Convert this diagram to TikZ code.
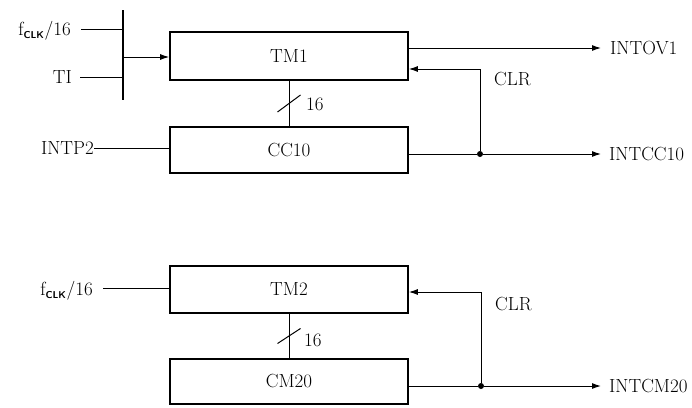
\documentclass[tikz,border=0pt]{standalone}
\usetikzlibrary{arrows.meta,calc}
\begin{document}
\begin{tikzpicture}[x=1pt,y=-1pt,
  font=\fontsize{19}{22}\selectfont,
  blk/.style={draw,line width=1.7pt,minimum width=238pt,inner sep=0pt,anchor=center},
  wire/.style={line width=1pt},
  arr/.style={wire,-{Latex[length=9pt,width=6pt]}},
  lbl/.style={inner sep=0pt},
  dotc/.style={circle,fill,inner sep=0pt,minimum size=6pt}]
\useasboundingbox (0,0) rectangle (692,407);
\newcommand{\fclk}{f\textsubscript{\sffamily\bfseries\fontsize{10}{11}\selectfont CLK}/16}
% blocks
\node[blk,minimum height=48pt] (TM1) at (289,56) {TM1};
\node[blk,minimum height=46pt] (CC10) at (289,150) {CC10};
\node[blk,minimum height=47pt] (TM2) at (289,289.5) {TM2};
\node[blk,minimum height=45pt] (CM20) at (289,381.5) {CM20};
% input labels
\node[lbl,anchor=east] (f1) at (71,31) {\fclk};
\node[lbl,anchor=east] (TI) at (72,77) {TI};
\node[lbl,anchor=east] (INTP2) at (94,148) {INTP2};
\node[lbl,anchor=east] (f2) at (93,291) {\fclk};
% selector bar
\coordinate (bt) at (123,10);
\coordinate (bb) at (123,100);
\draw[line width=2.5pt] (bt) -- (bb);
\coordinate (b1) at (123,29);
\coordinate (b2) at (123,77);
\coordinate (bm) at (123,57);
\draw[wire] (81,29) -- (b1);
\draw[wire] (80,77) -- (b2);
\draw[arr] (bm) -- (TM1.west |- bm);
\draw[wire] (INTP2.east) -- (CC10.west |- INTP2.east);
\draw[wire] (103,288) -- (TM2.west |- 0,288);
% buses
\draw[wire] (TM1.south) -- (CC10.north);
\draw[wire] ($(TM1.south)!0.5!(CC10.north)+(-11.5,8.5)$) -- ++(23,-17);
\node[lbl,anchor=west] (n16a) at (306,104) {16};
\draw[wire] (TM2.south) -- (CM20.north);
\draw[wire] ($(TM2.south)!0.5!(CM20.north)+(-11.5,7.5)$) -- ++(23,-15);
\node[lbl,anchor=west] (n16b) at (304,340) {16};
% outputs
\node[lbl,anchor=west] (INTOV1) at (610,48) {INTOV1};
\node[lbl,anchor=west] (INTCC10) at (609,154) {INTCC10};
\node[lbl,anchor=west] (INTCM20) at (609,386) {INTCM20};
\draw[arr] (TM1.east |- INTOV1.west) -- (601,48);
\node[dotc] (d1) at (480,154) {};
\draw[wire] (CC10.east |- d1) -- (d1);
\draw[arr] (d1) -- (601,154);
\draw[arr] (d1) -- (480,69) -- (TM1.east |- 0,69);
\node[lbl,anchor=west] (clr1) at (494,79) {CLR};
\node[dotc] (d2) at (481,386) {};
\draw[wire] (CM20.east |- d2) -- (d2);
\draw[arr] (d2) -- (601,386);
\draw[arr] (d2) -- (481,292) -- (TM2.east |- 0,292);
\node[lbl,anchor=west] (clr2) at (495,304) {CLR};
\end{tikzpicture}
\end{document}
